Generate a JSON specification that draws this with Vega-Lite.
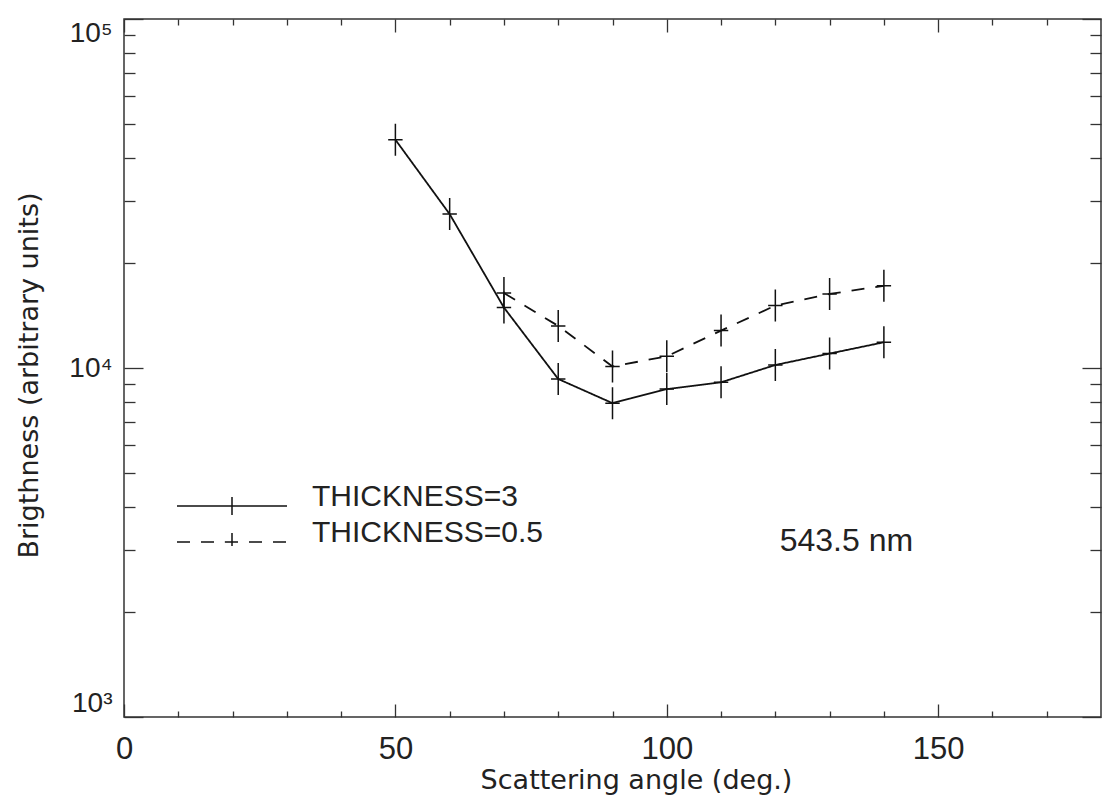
{
  "$schema": "https://vega.github.io/schema/vega-lite/v6.json",
  "width": 977,
  "height": 698,
  "autosize": {"type": "none"},
  "padding": {"left": 124, "top": 19, "right": 2, "bottom": 90},
  "background": "white",
  "config": {
    "view": {"stroke": "#333", "strokeWidth": 1.5},
    "axis": {
      "domain": false,
      "grid": false,
      "tickColor": "#333",
      "tickWidth": 1.3,
      "labelFont": "Liberation Sans",
      "labelColor": "#222",
      "titleFont": "DejaVu Sans",
      "titleFontSize": 27,
      "titleFontWeight": "normal",
      "titleColor": "#222"
    }
  },
  "datasets": {
    "curves": [
      {"angle": 50, "brightness": 45100, "series": "THICKNESS=3"},
      {"angle": 60, "brightness": 27600, "series": "THICKNESS=3"},
      {"angle": 70, "brightness": 14900, "series": "THICKNESS=3"},
      {"angle": 80, "brightness": 9300, "series": "THICKNESS=3"},
      {"angle": 90, "brightness": 7930, "series": "THICKNESS=3"},
      {"angle": 100, "brightness": 8700, "series": "THICKNESS=3"},
      {"angle": 110, "brightness": 9100, "series": "THICKNESS=3"},
      {"angle": 120, "brightness": 10200, "series": "THICKNESS=3"},
      {"angle": 130, "brightness": 11000, "series": "THICKNESS=3"},
      {"angle": 140, "brightness": 11850, "series": "THICKNESS=3"},
      {"angle": 70, "brightness": 16400, "series": "THICKNESS=0.5"},
      {"angle": 80, "brightness": 13200, "series": "THICKNESS=0.5"},
      {"angle": 90, "brightness": 10100, "series": "THICKNESS=0.5"},
      {"angle": 100, "brightness": 10800, "series": "THICKNESS=0.5"},
      {"angle": 110, "brightness": 12800, "series": "THICKNESS=0.5"},
      {"angle": 120, "brightness": 15100, "series": "THICKNESS=0.5"},
      {"angle": 130, "brightness": 16300, "series": "THICKNESS=0.5"},
      {"angle": 140, "brightness": 17200, "series": "THICKNESS=0.5"}
    ]
  },
  "data": {"name": "curves"},
  "layer": [
    {
      "mark": {"type": "line", "color": "#111", "strokeWidth": 1.8},
      "encoding": {
        "x": {
          "field": "angle", "type": "quantitative",
          "scale": {"domain": [0, 180], "nice": false, "zero": false},
          "axis": {
            "orient": "bottom", "values": [0, 50, 100, 150], "tickSize": -13,
            "labelPadding": 30, "labelFontSize": 31, "labelFlush": false,
            "title": "Scattering angle (deg.)", "titleX": 512, "titleY": 71,
            "titleAlign": "center", "titleBaseline": "alphabetic"
          }
        },
        "y": {
          "field": "brightness", "type": "quantitative",
          "scale": {"type": "log", "domain": [1000, 100000], "nice": false},
          "axis": {
            "orient": "left", "values": [1000, 10000, 100000],
            "labelExpr": "datum.value == 1000 ? '10³' : datum.value == 10000 ? '10⁴' : '10⁵'",
            "tickSize": -19, "labelPadding": 31, "labelFontSize": 28,
            "labelFlush": true, "labelFlushOffset": 0,
            "title": "Brigthness (arbitrary units)", "titleX": -87, "titleY": 356,
            "titleAngle": -90, "titleAlign": "center", "titleBaseline": "alphabetic"
          }
        },
        "strokeDash": {
          "field": "series", "type": "nominal",
          "scale": {"domain": ["THICKNESS=3", "THICKNESS=0.5"], "range": [[1, 0], [13, 11]]},
          "legend": {
            "title": null,
            "orient": "none",
            "direction": "vertical",
            "columns": 1,
            "legendX": 52,
            "legendY": 475,
            "padding": 0,
            "rowPadding": 0,
            "clipHeight": 24,
            "symbolType": "M-1,0H1M0,-0.165V0.165M-0.13,0H0.13",
            "symbolSize": 12100,
            "symbolOffset": 0,
            "symbolStrokeColor": "#111",
            "symbolFillColor": "transparent",
            "symbolStrokeWidth": 1.5,
            "labelOffset": 24,
            "labelFont": "Liberation Sans",
            "labelFontSize": 30,
            "labelColor": "#222",
            "labelBaseline": "alphabetic",
            "labelLimit": 400
          }
        }
      }
    },
    {
      "transform": [{"filter": "datum.series == 'THICKNESS=3'"}],
      "mark": {"type": "point", "shape": "M-0.45,0H0.45M0,-1V1", "size": 1024, "filled": false, "color": "#111", "strokeWidth": 1.5, "opacity": 1},
      "encoding": {
        "x": {
          "field": "angle", "type": "quantitative",
          "axis": {
            "orient": "bottom",
            "values": [10, 20, 30, 40, 60, 70, 80, 90, 110, 120, 130, 140, 160, 170],
            "tickSize": -6, "labels": false, "title": null
          }
        },
        "y": {
          "field": "brightness", "type": "quantitative",
          "axis": {
            "orient": "left",
            "values": [2000, 3000, 4000, 5000, 6000, 7000, 8000, 9000, 20000, 30000, 40000, 50000, 60000, 70000, 80000, 90000],
            "tickSize": -11, "labels": false, "title": null
          }
        }
      }
    },
    {
      "data": {"values": [{"angle": 120.8, "brightness": 3199, "note": "543.5 nm"}]},
      "mark": {"type": "text", "align": "left", "baseline": "middle", "font": "Liberation Sans", "fontSize": 32, "color": "#222"},
      "encoding": {
        "x": {
          "field": "angle", "type": "quantitative",
          "axis": {"orient": "top", "values": [0, 50, 100, 150], "tickSize": -13, "labels": false, "title": null}
        },
        "y": {
          "field": "brightness", "type": "quantitative",
          "axis": {"orient": "right", "values": [1000, 10000, 100000], "tickSize": -19, "labels": false, "title": null}
        },
        "text": {"field": "note"}
      }
    },
    {
      "transform": [{"filter": "datum.series == 'THICKNESS=0.5'"}],
      "mark": {"type": "point", "shape": "M-0.45,0H0.45M0,-1V1", "size": 1024, "filled": false, "color": "#111", "strokeWidth": 1.5, "opacity": 1},
      "encoding": {
        "x": {
          "field": "angle", "type": "quantitative",
          "axis": {
            "orient": "top",
            "values": [10, 20, 30, 40, 60, 70, 80, 90, 110, 120, 130, 140, 160, 170],
            "tickSize": -6, "labels": false, "title": null
          }
        },
        "y": {
          "field": "brightness", "type": "quantitative",
          "axis": {
            "orient": "right",
            "values": [2000, 3000, 4000, 5000, 6000, 7000, 8000, 9000, 20000, 30000, 40000, 50000, 60000, 70000, 80000, 90000],
            "tickSize": -11, "labels": false, "title": null
          }
        }
      }
    }
  ],
  "resolve": {"axis": {"x": "independent", "y": "independent"}}
}
